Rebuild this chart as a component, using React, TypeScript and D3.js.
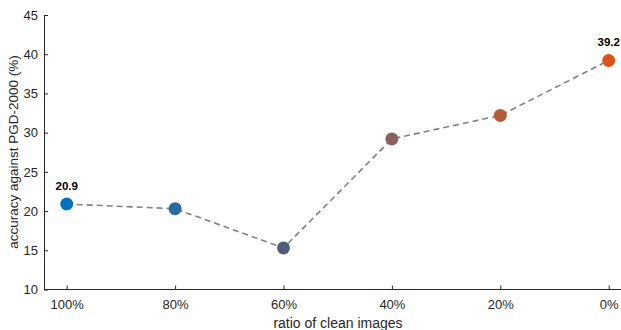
import React, { useEffect, useRef } from "react";
import * as d3 from "d3";

const categories = ["100%", "80%", "60%", "40%", "20%", "0%"];
const accuracy = [20.9, 20.3, 15.3, 29.2, 32.2, 39.2];
const dotColors = ["#0072bd", "#2a6b9e", "#4f5f7a", "#8a6160", "#b55b3b", "#d95319"];
const yTicks = [10, 15, 20, 25, 30, 35, 40, 45];
// only the ends get a value label
const labelled = [0, 5];

export default function App() {
  const ref = useRef<SVGSVGElement>(null);

  useEffect(() => {
    const w = 621;
    const h = 330;
    const svg = d3.select(ref.current).html("");
    const font = "'Liberation Sans', Arial, Helvetica, sans-serif";

    const x = d3.scalePoint<string>().domain(categories).range([66.7, 608.7]);
    const y = d3.scaleLinear().domain([10, 45]).range([289.5, 15]);
    const axisLeftX = 44;

    // y axis
    const yAxis = svg
      .append("g")
      .attr("transform", `translate(${axisLeftX},0)`)
      .call(
        d3.axisLeft(y).tickValues(yTicks).tickSizeInner(-4).tickSizeOuter(0).tickPadding(6)
      );
    yAxis.select(".domain").attr("stroke", "#262626").attr("stroke-width", 1);
    yAxis.selectAll(".tick line").attr("stroke", "#262626");
    yAxis
      .selectAll(".tick text")
      .attr("fill", "#262626")
      .style("font-family", font)
      .style("font-size", "13px");

    // x axis
    const xAxis = svg
      .append("g")
      .attr("transform", `translate(0,${y(10)})`)
      .call(d3.axisBottom(x).tickSizeInner(-4).tickSizeOuter(0).tickPadding(10));
    xAxis
      .select(".domain")
      .attr("d", `M${axisLeftX},0H${w}`)
      .attr("stroke", "#262626");
    xAxis.selectAll(".tick line").attr("stroke", "#262626");
    xAxis
      .selectAll(".tick text")
      .attr("fill", "#262626")
      .style("font-family", font)
      .style("font-size", "13px");

    // dashed line
    const line = d3
      .line<number>()
      .x((_, i) => x(categories[i]) as number)
      .y((d) => y(d));
    svg
      .append("path")
      .datum(accuracy)
      .attr("fill", "none")
      .attr("stroke", "#808080")
      .attr("stroke-width", 1.6)
      .attr("stroke-dasharray", "6,4")
      .attr("d", line);

    // dots
    svg
      .selectAll("circle")
      .data(accuracy)
      .join("circle")
      .attr("cx", (_, i) => x(categories[i]) as number)
      .attr("cy", (d) => y(d))
      .attr("r", 6.5)
      .attr("fill", (_, i) => dotColors[i]);

    // value labels
    svg
      .selectAll("text.val")
      .data(labelled)
      .join("text")
      .attr("class", "val")
      .attr("x", (i) => x(categories[i]) as number)
      .attr("y", (i) => y(accuracy[i]) - 14)
      .attr("text-anchor", "middle")
      .style("font-family", font)
      .style("font-size", "11.5px")
      .style("font-weight", "bold")
      .attr("fill", "#000")
      .text((i) => accuracy[i].toFixed(1));

    // axis titles
    svg
      .append("text")
      .attr("x", 338)
      .attr("y", 328)
      .attr("text-anchor", "middle")
      .style("font-family", font)
      .style("font-size", "14px")
      .attr("fill", "#262626")
      .text("ratio of clean images");

    svg
      .append("text")
      .attr("transform", "rotate(-90)")
      .attr("x", -152)
      .attr("y", 18)
      .attr("text-anchor", "middle")
      .style("font-family", font)
      .style("font-size", "13.5px")
      .attr("fill", "#262626")
      .text("accuracy against PGD-2000 (%)");

    svg.attr("width", w).attr("height", h);
  }, []);

  return (
    <svg
      ref={ref}
      width={621}
      height={330}
      style={{ position: "absolute", left: 0, top: 0, background: "#fff" }}
    />
  );
}
